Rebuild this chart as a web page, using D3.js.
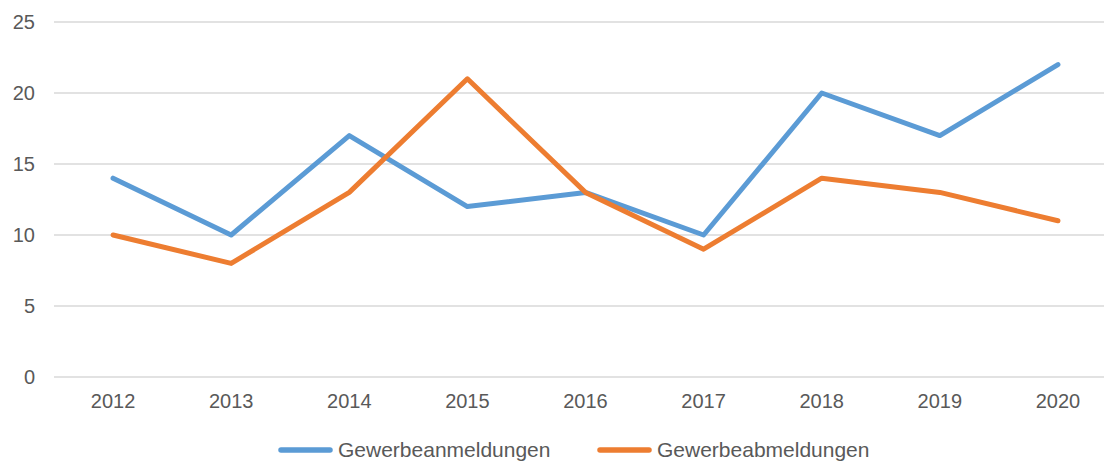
<!DOCTYPE html>
<html>
<head>
<meta charset="utf-8">
<script src="https://cdn.jsdelivr.net/npm/d3@7"></script>
<style>
  body { margin: 0; background: #fff; }
  svg { display: block; font-family: "Liberation Sans", Arial, sans-serif; }
</style>
</head>
<body>
<svg id="chart"></svg>
<script>
// Data
const years = ["2012", "2013", "2014", "2015", "2016", "2017", "2018", "2019", "2020"];
const anmeldungen = [14, 10, 17, 12, 13, 10, 20, 17, 22];
const abmeldungen = [10, 8, 13, 21, 13, 9, 14, 13, 11];
const yTicks = [0, 5, 10, 15, 20, 25];
const seriesNames = ["Gewerbeanmeldungen", "Gewerbeabmeldungen"];
const colors = ["#5B9BD5", "#ED7D31"];

const width = 1104;
const height = 461;

const svg = d3.select("#chart")
    .attr("width", width)
    .attr("height", height);

const x = d3.scalePoint()
    .domain(years)
    .range([54, 1117])
    .padding(0.5);

const y = d3.scaleLinear()
    .domain([0, 25])
    .range([377, 22]);

// gridlines
svg.append("g")
    .selectAll("line")
    .data(yTicks)
    .enter().append("line")
    .attr("x1", 54)
    .attr("x2", width)
    .attr("y1", d => y(d))
    .attr("y2", d => y(d))
    .attr("stroke", "#d9d9d9")
    .attr("stroke-width", 1.5);

// y labels
svg.append("g")
    .selectAll("text")
    .data(yTicks)
    .enter().append("text")
    .attr("x", 35)
    .attr("y", d => y(d))
    .attr("dy", "0.35em")
    .attr("text-anchor", "end")
    .attr("fill", "#595959")
    .attr("font-size", 20)
    .text(d => d);

// x labels
svg.append("g")
    .selectAll("text")
    .data(years)
    .enter().append("text")
    .attr("x", d => x(d))
    .attr("y", 401)
    .attr("dy", "0.35em")
    .attr("text-anchor", "middle")
    .attr("fill", "#595959")
    .attr("font-size", 20)
    .text(d => d);

const line = d3.line()
    .x((d, i) => x(years[i]))
    .y(d => y(d));

[anmeldungen, abmeldungen].forEach((vals, k) => {
    svg.append("path")
        .datum(vals)
        .attr("d", line)
        .attr("fill", "none")
        .attr("stroke", colors[k])
        .attr("stroke-width", 5)
        .attr("stroke-linejoin", "round")
        .attr("stroke-linecap", "round");
});

// legend
const legendX = [281, 600];
const legend = svg.append("g")
    .selectAll("g")
    .data(seriesNames)
    .enter().append("g")
    .attr("transform", (d, i) => `translate(${legendX[i]},450)`);

legend.append("line")
    .attr("x1", 0)
    .attr("x2", 49)
    .attr("stroke", (d, i) => colors[i])
    .attr("stroke-width", 5.5)
    .attr("stroke-linecap", "round");

legend.append("text")
    .attr("x", 57)
    .attr("dy", "0.35em")
    .attr("fill", "#595959")
    .attr("font-size", 21)
    .text(d => d);
</script>
</body>
</html>
